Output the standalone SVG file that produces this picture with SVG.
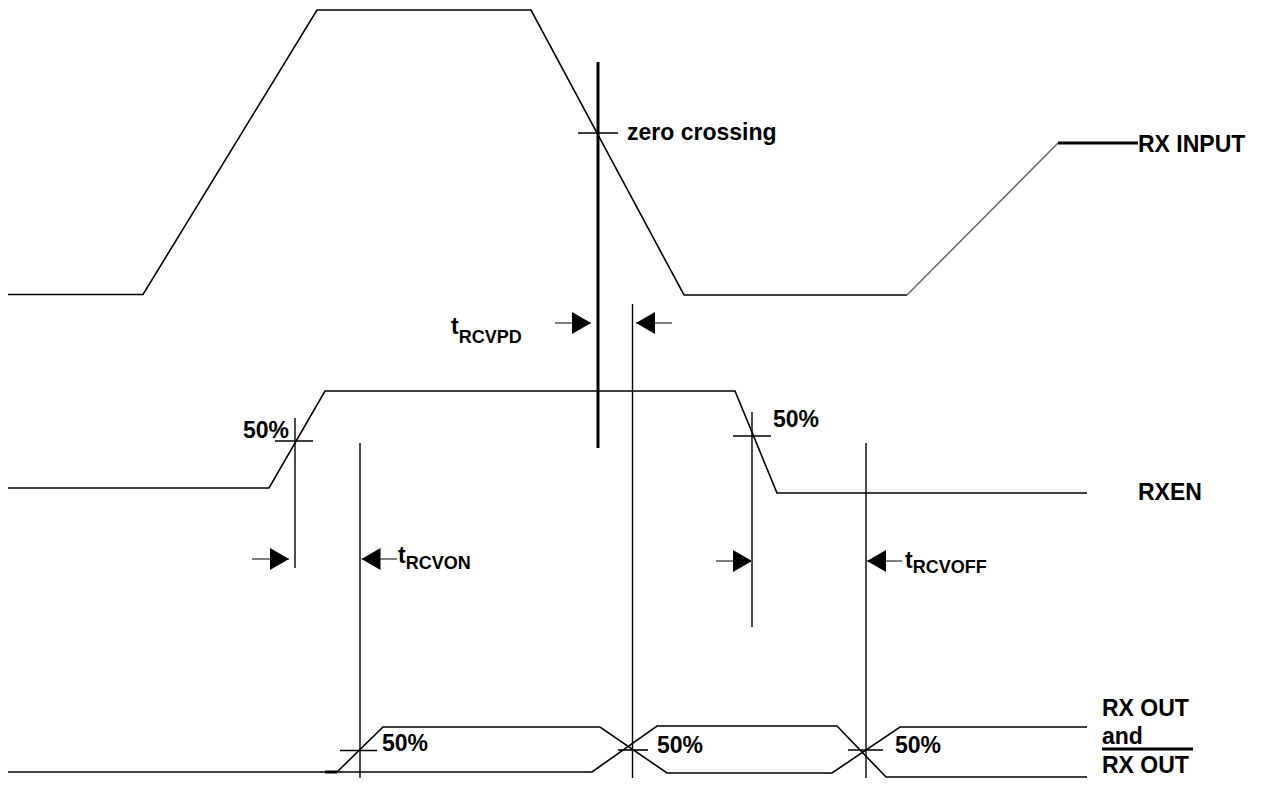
<svg xmlns="http://www.w3.org/2000/svg" width="1262" height="789" viewBox="0 0 1262 789">
<style>
.w{fill:none;stroke:#000;stroke-width:1.6;stroke-linejoin:miter}
.g{fill:none;stroke:#6a6a6a;stroke-width:1.6}
.thick{fill:none;stroke:#000;stroke-width:3}
.ref{fill:none;stroke:#000;stroke-width:1.4}
.tick{fill:none;stroke:#000;stroke-width:1.6}
.shaft{fill:none;stroke:#808080;stroke-width:2}
.t{font-family:"Liberation Sans",Arial,sans-serif;font-weight:bold;font-size:23px;fill:#000}
.s{font-size:18px}
</style>
<defs>
<marker id="ah" markerUnits="userSpaceOnUse" markerWidth="19" markerHeight="22" viewBox="0 0 19 22" refX="19" refY="11" orient="auto">
<path d="M0,0 L19,11 L0,22 Z" fill="#000"/>
</marker>
</defs>
<rect width="1262" height="789" fill="#fff"/>

<g id="rx-input">
<polyline class="w" points="8,294.5 143,294.5 317,10 531,10 684,295 907,295"/>
<line class="g" x1="907" y1="295" x2="1058" y2="143"/>
<line class="thick" x1="1058" y1="143" x2="1138" y2="143"/>
<text class="t" x="1138" y="152">RX INPUT</text>
</g>

<g id="zero-crossing">
<line class="thick" x1="598" y1="62" x2="598" y2="448"/>
<line class="tick" x1="578" y1="133" x2="618" y2="133"/>
<text class="t" x="627" y="140">zero crossing</text>
</g>

<g id="rxen">
<polyline class="w" points="8,488 269,488 325,391 735,391 777,493 1087,493"/>
<text class="t" x="1138" y="500">RXEN</text>
<line class="tick" x1="275" y1="441" x2="313" y2="441"/>
<text class="t" x="243" y="438">50%</text>
<line class="tick" x1="733" y1="436" x2="771" y2="436"/>
<text class="t" x="773" y="427">50%</text>
</g>

<g id="rx-out">
<polyline class="w" points="8,772 337,772 383,727 600,727 667,773 832,773 900,727 1087,727"/>
<polyline class="w" points="337,772 592,772 657,726 837,726 886,777 1087,777"/>
<line x1="325" y1="772" x2="337" y2="772" stroke="#000" stroke-width="3"/>
<line class="tick" x1="340" y1="750.5" x2="377" y2="750.5"/>
<text class="t" x="382" y="751">50%</text>
<line class="tick" x1="618" y1="750" x2="648" y2="750"/>
<text class="t" x="657" y="753">50%</text>
<line class="tick" x1="848" y1="750" x2="883" y2="750"/>
<text class="t" x="895" y="753">50%</text>
<text class="t" x="1102" y="716">RX OUT</text>
<text class="t" x="1102" y="744">and</text>
<line x1="1102" y1="749" x2="1193" y2="749" stroke="#000" stroke-width="3"/>
<text class="t" x="1102" y="773">RX OUT</text>
</g>

<g id="connectors">
<line class="ref" x1="295" y1="418" x2="295" y2="568"/>
<line class="ref" x1="360" y1="443" x2="360" y2="778"/>
<line class="ref" x1="632.5" y1="304" x2="632.5" y2="778"/>
<line class="ref" x1="752" y1="412" x2="752" y2="627"/>
<line class="ref" x1="866" y1="443" x2="866" y2="778"/>

<line class="shaft" x1="555" y1="323" x2="591" y2="323" marker-end="url(#ah)"/>
<line class="shaft" x1="672" y1="323" x2="636" y2="323" marker-end="url(#ah)"/>
<line class="shaft" x1="252" y1="559" x2="289" y2="559" marker-end="url(#ah)"/>
<line class="shaft" x1="397" y1="559" x2="361.5" y2="559" marker-end="url(#ah)"/>
<line class="shaft" x1="716" y1="561" x2="752" y2="561" marker-end="url(#ah)"/>
<line class="shaft" x1="902" y1="561" x2="867" y2="561" marker-end="url(#ah)"/>
</g>

<g id="labels">
<text class="t" x="451" y="334">t<tspan class="s" y="343">RCVPD</tspan></text>
<text class="t" x="398" y="563">t<tspan class="s" y="569">RCVON</tspan></text>
<text class="t" x="905" y="568">t<tspan class="s" y="573">RCVOFF</tspan></text>
</g>
</svg>
